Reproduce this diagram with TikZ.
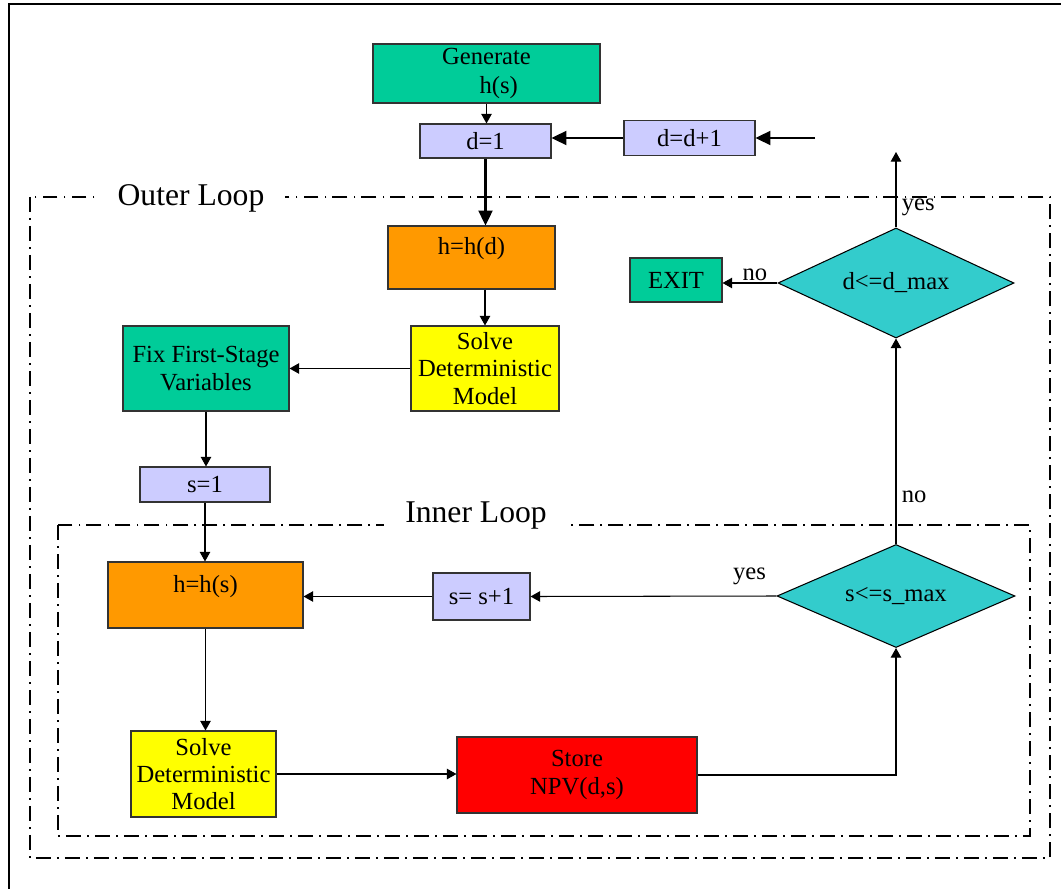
\documentclass[tikz,border=0pt]{standalone}
\usepackage{fontspec}
\setmainfont{Liberation Serif}
\usetikzlibrary{arrows.meta,positioning,shapes.geometric}
\definecolor{boxgreen}{HTML}{00CC99}
\definecolor{boxlilac}{HTML}{CCCCFF}
\definecolor{boxorange}{HTML}{FF9900}
\definecolor{boxyellow}{HTML}{FFFF00}
\definecolor{boxred}{HTML}{FF0000}
\definecolor{boxteal}{HTML}{33CCCC}

\begin{document}
\begin{tikzpicture}[
  x=0.2mm, y=-0.2mm,
  box/.style={draw=black!80, line width=0.6pt, inner sep=1pt, align=center, font=\fontsize{14}{15.5}\selectfont},
  dec/.style={diamond, draw, line width=0.6pt, fill=boxteal, aspect=2.3, inner sep=1pt, font=\fontsize{14}{15.5}\selectfont},
  arr/.style={-{Triangle[length=5.5pt,width=6pt]}, line width=0.6pt},
  tharr/.style={-{Triangle[length=8.5pt,width=8pt]}, line width=1.2pt},
  lbl/.style={font=\fontsize{14}{15.5}\selectfont, inner sep=1pt},
  loopframe/.style={line width=1.1pt, dash pattern=on 8.5pt off 3.5pt on 1pt off 3.5pt},
  looplbl/.style={fill=white, font=\fontsize{18}{20}\selectfont, inner xsep=12pt, inner ysep=0pt},
]
  \useasboundingbox (0,0) rectangle (1061,889);
  \draw[line width=1pt] (9,889) -- (9,4) -- (1061,4);

  % Loops
  \draw[loopframe] (30,197) rectangle (1050,858);
  \node[looplbl] (outerlbl) at (191,198) {Outer Loop};
  \draw[loopframe] (58,525) rectangle (1030,836);
  \node[looplbl] (innerlbl) at (476,516) {Inner Loop};

  % Top: scenario generation and outer counter
  \node[box, fill=boxgreen, minimum width=45.4mm, minimum height=11.8mm] (gen) at (486.5,73.5) {Generate\\[1pt]\hspace*{1em}h(s)};
  \node[box, fill=boxlilac, minimum width=26.2mm, minimum height=6.8mm] (d1) at (485.5,141) {d=1};
  \node[box, fill=boxlilac, minimum width=26.2mm, minimum height=7mm] (dinc) at (689.5,138) {d=d+1};
  \coordinate (dback) at (815,138);

  % Outer loop body
  \node[box, fill=boxorange, minimum width=33.4mm, minimum height=12.6mm, text depth=4.8mm] (hd) at (471.5,257.5) {h=h(d)};
  \node[box, fill=boxyellow, minimum width=29.6mm, minimum height=17mm] (solvea) at (485,368.5) {Solve\\Deterministic\\Model};
  \node[box, fill=boxgreen, minimum width=33.2mm, minimum height=17mm] (fix) at (206,368.5) {Fix First-Stage\\Variables};
  \node[box, fill=boxlilac, minimum width=26mm, minimum height=7mm] (s1) at (205,484.5) {s=1};
  \node[dec, minimum width=47.2mm, minimum height=22mm] (ddec) at (896,283) {d<=d\_max};
  \node[box, fill=boxgreen, minimum width=18.4mm, minimum height=8.8mm] (exit) at (676,280) {EXIT};
  \coordinate (dtop) at (896,152);

  % Inner loop body
  \node[box, fill=boxorange, minimum width=39mm, minimum height=13.2mm, text depth=4.5mm] (hs) at (205.5,595) {h=h(s)};
  \node[box, fill=boxlilac, minimum width=19.4mm, minimum height=9.4mm] (sinc) at (481.5,596.5) {s= s+1};
  \node[dec, minimum width=47.6mm, minimum height=20.6mm] (sdec) at (896,596) {s<=s\_max};
  \node[box, fill=boxyellow, minimum width=29mm, minimum height=17.2mm] (solveb) at (203.5,774) {Solve\\Deterministic\\Model};
  \node[box, fill=boxred, minimum width=48mm, minimum height=15.2mm] (store) at (577,775) {Store\\NPV(d,s)};

  % Edges
  \draw[arr] (gen.south) -- (gen.south |- d1.north);
  \draw[tharr] (dinc.west) -- (d1.east |- dinc.west);
  \draw[tharr] (dback) -- (dinc.east);
  \draw[tharr] (d1.south) -- (d1.south |- hd.north);
  \draw[arr] (solvea.north |- hd.south) -- (solvea.north);
  \draw[arr] (solvea.west) -- (fix.east);
  \draw[arr] (fix.south) -- (fix.south |- s1.north);
  \draw[arr] (s1.south) -- (s1.south |- hs.north);
  \draw[arr] (hs.south) -- (hs.south |- solveb.north);
  \draw[arr] (solveb.east) -- (solveb.east -| store.west);
  \draw[arr] (store.east) -| (sdec.south);
  \draw[arr] (sdec.west) -- node[lbl, pos=0.11, above=5pt]{yes} (sinc.east);
  \draw[arr] (sinc.west) -- (hs.east |- sinc.west);
  \draw[arr] (sdec.north) -- node[lbl, pos=0.23, right=2pt]{no} (sdec.north |- ddec.south);
  \draw[arr] (ddec.west) -- node[lbl, pos=0.41, above=0pt]{no} (exit.east |- ddec.west);
  \draw[arr] (ddec.north) -- node[lbl, pos=0.26, right=2pt]{yes} (dtop);
\end{tikzpicture}
\end{document}
